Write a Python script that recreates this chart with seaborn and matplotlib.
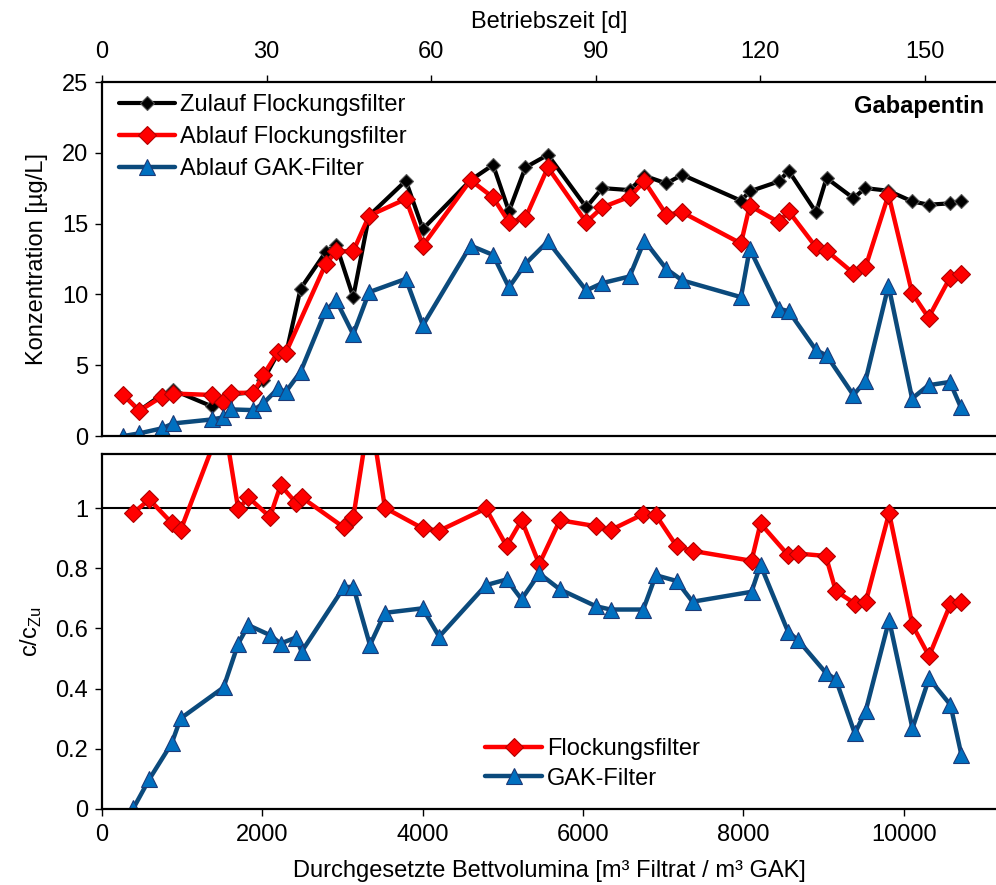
import matplotlib
matplotlib.use("Agg")
import matplotlib.pyplot as plt
import seaborn as sns
import numpy as np

# ---------------- data ----------------
days_zu = [3.9, 6.8, 10.9, 13.0, 20.0, 22.0, 23.6, 27.6, 29.4, 32.1, 33.5, 36.2, 40.8, 42.7,
           45.8, 48.7, 55.4, 58.5, 67.2, 71.3, 74.2, 77.2, 81.3, 88.3, 91.2, 96.2, 98.9,
           102.9, 105.8, 116.5, 118.1, 123.4, 125.2, 130.2, 132.1, 137.0, 139.2, 143.4,
           147.7, 150.7, 154.6, 156.6]
zulauf_ff = [2.9, 1.8, 2.91, 3.24, 2.1, 2.42, 2.94, 3.1, 3.95, 5.85, 5.7, 10.4, 13.0, 13.5,
             9.81, 15.56, 18.03, 14.62, 18.07, 19.15, 15.87, 18.97, 19.86, 16.15, 17.51, 17.37,
             18.38, 17.84, 18.45, 16.62, 17.28, 17.98, 18.73, 15.8, 18.22, 16.8, 17.51, 17.32,
             16.57, 16.34, 16.43, 16.62]
ablauf_gak = [0.0, 0.19, 0.54, 0.89, 1.17, 1.31, 1.88, 1.83, 2.3, 3.36, 3.12, 4.53, 8.87, 9.58,
              7.18, 10.16, 11.1, 7.82, 13.45, 12.79, 10.5, 12.16, 13.75, 10.28, 10.8, 11.27,
              13.8, 11.8, 10.99, 9.81, 13.22, 8.99, 8.82, 6.06, 5.7, 2.89, 3.9, 10.63, 2.65,
              3.59, 3.82, 2.02]

days_ab = [3.9, 6.8, 10.9, 13.0, 20.0, 22.0, 23.6, 27.6, 29.4, 32.1, 33.5, 40.8, 42.7,
           45.8, 48.7, 55.4, 58.5, 67.2, 71.3, 74.2, 77.2, 81.3, 88.3, 91.2, 96.2, 98.9,
           102.9, 105.8, 116.5, 118.1, 123.4, 125.2, 130.2, 132.1, 137.0, 139.2, 143.4,
           147.7, 150.7, 154.6, 156.6]
ablauf_ff = [2.9, 1.78, 2.77, 3.0, 2.9, 2.42, 3.05, 3.05, 4.3, 5.94, 5.87, 12.16, 13.05, 13.05,
             15.56, 16.74, 13.45, 18.07, 16.85, 15.1, 15.4, 18.97, 15.1, 16.15, 16.9, 17.98,
             15.63, 15.8, 13.6, 16.27, 15.1, 15.87, 13.33, 13.1, 11.5, 11.92, 17.04, 10.1,
             8.36, 11.18, 11.46]

bv = [391, 590, 869, 981, 1516, 1700, 1825, 2095, 2228, 2419, 2490, 3017, 3134, 3342, 3529,
      3998, 4206, 4788, 5046, 5233, 5453, 5711, 6160, 6343, 6750, 6908, 7166, 7365, 8101,
      8213, 8557, 8682, 9027, 9152, 9389, 9526, 9817, 10108, 10315, 10582, 10719]
ratio_ff = [0.984, 1.029, 0.951, 0.927, 1.30, 0.996, 1.036, 0.971, 1.076, 1.018, 1.036, 0.936,
            0.969, 1.325, 1.001, 0.933, 0.925, 0.999, 0.874, 0.960, 0.814, 0.960, 0.940, 0.927,
            0.980, 0.977, 0.874, 0.858, 0.825, 0.949, 0.844, 0.849, 0.841, 0.725, 0.683, 0.689,
            0.984, 0.611, 0.508, 0.681, 0.689]
ratio_gak = [0.002, 0.099, 0.218, 0.301, 0.404, 0.550, 0.611, 0.578, 0.550, 0.570, 0.523, 0.737,
             0.739, 0.545, 0.652, 0.667, 0.573, 0.744, 0.763, 0.697, 0.783, 0.730, 0.674, 0.663,
             0.663, 0.777, 0.758, 0.689, 0.722, 0.811, 0.589, 0.561, 0.453, 0.431, 0.251, 0.327,
             0.628, 0.268, 0.434, 0.346, 0.179]

top_yticks = [0, 5, 10, 15, 20, 25]
top_xticks = [0, 30, 60, 90, 120, 150]
bot_yticks = [0, 0.2, 0.4, 0.6, 0.8, 1.0]
bot_yticklabels = ["0", "0.2", "0.4", "0.6", "0.8", "1"]
bot_xticks = [0, 2000, 4000, 6000, 8000, 10000]

# ---------------- style ----------------
sns.set_theme(style="white")
plt.rcParams["font.family"] = ["Liberation Sans", "DejaVu Sans"]
plt.rcParams["mathtext.fontset"] = "custom"
plt.rcParams["mathtext.rm"] = "Liberation Sans"
plt.rcParams["text.color"] = "black"
plt.rcParams["axes.labelcolor"] = "black"
plt.rcParams["xtick.color"] = "black"
plt.rcParams["ytick.color"] = "black"

RED = "#FF0000"
RED_EDGE = "#B00000"
BLUE_LINE = "#0B4A7C"
BLUE_FACE = "#0070C0"
BLUE_EDGE = "#1B3A78"
FS = 17

fig = plt.figure(figsize=(9.96, 8.85), dpi=100)
ax1 = fig.add_axes([0.1024, 0.5073, 0.8976, 0.4000])
ax2 = fig.add_axes([0.1024, 0.0859, 0.8976, 0.4011])

black_kw = dict(color="black", linewidth=3.0, marker="D", markersize=7.0,
                markerfacecolor="black", markeredgecolor="#555555", markeredgewidth=0.8)
red_kw = dict(color=RED, linewidth=3.2, marker="D", markersize=8.8,
              markerfacecolor=RED, markeredgecolor=RED_EDGE, markeredgewidth=0.8)
blue_kw = dict(color=BLUE_LINE, linewidth=3.2, marker="^", markersize=12,
               markerfacecolor=BLUE_FACE, markeredgecolor=BLUE_EDGE, markeredgewidth=0.8)

# ---------------- top panel ----------------
sns.lineplot(x=days_zu, y=zulauf_ff, ax=ax1, sort=False, estimator=None,
             label="Zulauf Flockungsfilter", **black_kw)
sns.lineplot(x=days_ab, y=ablauf_ff, ax=ax1, sort=False, estimator=None,
             label="Ablauf Flockungsfilter", **red_kw)
sns.lineplot(x=days_zu, y=ablauf_gak, ax=ax1, sort=False, estimator=None,
             label="Ablauf GAK-Filter", **blue_kw)

ax1.set_xlim(0, 163)
ax1.set_ylim(0, 25)
ax1.set_yticks(top_yticks)
ax1.set_xticks(top_xticks)
ax1.xaxis.tick_top()
ax1.xaxis.set_label_position("top")
ax1.set_xlabel("Betriebszeit [d]", fontsize=FS, labelpad=9)
ax1.set_ylabel("Konzentration [µg/L]", fontsize=FS, labelpad=10)
ax1.text(0.987, 0.93, "Gabapentin", transform=ax1.transAxes, ha="right", va="center",
         fontsize=17, fontweight="bold", color="black")
leg1 = ax1.legend(loc="upper left", bbox_to_anchor=(0.0, 1.012), frameon=False, fontsize=FS,
                  handlelength=2.4, handletextpad=0.2, labelspacing=0.42, borderaxespad=0.3,
                  numpoints=1)

# ---------------- bottom panel ----------------
ax2.axhline(1.0, color="black", linewidth=1.5, zorder=1)
sns.lineplot(x=bv, y=ratio_ff, ax=ax2, sort=False, estimator=None,
             label="Flockungsfilter", **red_kw)
sns.lineplot(x=bv, y=ratio_gak, ax=ax2, sort=False, estimator=None,
             label="GAK-Filter", **blue_kw)
ax2.set_xlim(0, 11150)
ax2.set_ylim(0, 1.18)
ax2.set_yticks(bot_yticks)
ax2.set_yticklabels(bot_yticklabels)
ax2.set_xticks(bot_xticks)
ax2.set_xlabel("Durchgesetzte Bettvolumina [m³ Filtrat / m³ GAK]", fontsize=FS, labelpad=10)
ax2.set_ylabel(r"c/c$_\mathregular{Zu}$", fontsize=FS, labelpad=8)
leg2 = ax2.legend(loc="lower left", bbox_to_anchor=(0.405, -0.005), frameon=False, fontsize=FS,
                  handlelength=2.4, handletextpad=0.2, labelspacing=0.3, numpoints=1)

for ax in (ax1, ax2):
    for side in ("left", "top", "bottom"):
        ax.spines[side].set_visible(True)
        ax.spines[side].set_color("black")
        ax.spines[side].set_linewidth(1.6)
    ax.spines["right"].set_visible(False)
    ax.tick_params(axis="both", which="both", direction="out", length=5, width=1.0,
                   color="black", labelsize=FS, labelcolor="black")
    ax.grid(False)
    ax.set_facecolor("white")

ax1.tick_params(axis="x", top=True, bottom=False, pad=9)
ax1.tick_params(axis="y", left=True, pad=5)
ax2.tick_params(axis="x", bottom=True, top=False, pad=6)
ax2.tick_params(axis="y", left=True, pad=5)

fig.savefig("out.png", dpi=100, facecolor="white")
